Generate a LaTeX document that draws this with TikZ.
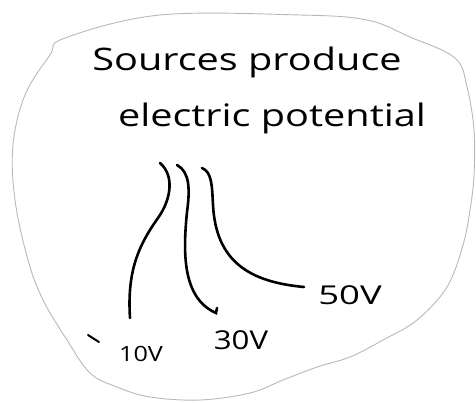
\documentclass[tikz,border=0pt]{standalone}
\usepackage{fontspec}
\setmainfont{Open Sans}
\usepackage{tikz}

\tikzset{
  outline/.style={black!28,line width=0.9pt},
  wire/.style={black,line width=2.6pt,line cap=round},
  head/.style={inner sep=0pt,font=\fontsize{31}{36}\selectfont,xscale=1.28},
  volt/.style={inner sep=0pt,font=\fontsize{26}{30}\selectfont,xscale=1.2},
}

\begin{document}
\begin{tikzpicture}[x=1pt,y=-1pt]
  % pixel grid of the sketch, y downwards
  \useasboundingbox (0,0) rectangle (476,402);
  \draw[outline] plot[smooth cycle,tension=0.6] coordinates {
    (65,38) (160,15) (300,15) (367,20) (410,37) (455,58) (467,87) (474,130)
    (474,175) (470,210) (463,245) (447,287) (417,320) (383,340) (350,357)
    (317,367) (283,380) (250,393) (200,400) (150,397) (117,387) (90,373)
    (67,340) (43,300) (28,260) (15,200) (13,145) (25,95) (50,55)};
  \node[head] (title1) at (247,62) {Sources produce};
  \node[head] (title2) at (272,118) {electric potential};
  \node[volt,font=\fontsize{21}{25}\selectfont] (v10) at (141,354) {10V};
  \node[volt] (v30) at (241,340) {30V};
  \node[volt,xscale=1.17] (v50) at (350,295) {50V};
  % curve ends
  \coordinate (s10) at (160,163);
  \coordinate (s30) at (177,165);
  \coordinate (s50) at (202,168);
  \coordinate (e10) at (130,318);
  \coordinate (e30) at (216,313);
  \coordinate (e50) at (304,287);
  \draw[wire] (s10) .. controls (174,175) and (172,198) .. (158,218)
    .. controls (138,246) and (127,272) .. (e10);
  \draw[wire] (s30) .. controls (190,172) and (190,190) .. (187,212)
    .. controls (183,252) and (182,298) .. (e30) -- ++(1,-5);
  \draw[wire] (s50) .. controls (212,172) and (212,186) .. (213,205)
    .. controls (216,262) and (250,282) .. (e50);
  \draw[wire,line width=2pt] (88,335) -- (99,342);
\end{tikzpicture}
\end{document}
